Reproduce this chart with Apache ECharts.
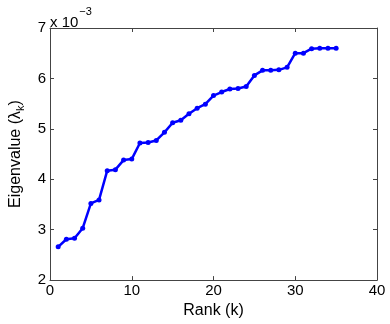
<!DOCTYPE html>
<html>
<head>
<meta charset="utf-8">
<script src="https://cdn.jsdelivr.net/npm/echarts@6/dist/echarts.min.js"></script>
<style>
  html, body { margin: 0; padding: 0; background: #fff; }
  #chart { width: 390px; height: 324px; }
</style>
</head>
<body>
<div id="chart"></div>
<script>
// rank k
const ranks = [1, 2, 3, 4, 5, 6, 7, 8, 9, 10, 11, 12, 13, 14, 15, 16, 17, 18,
  19, 20, 21, 22, 23, 24, 25, 26, 27, 28, 29, 30, 31, 32, 33, 34, 35]
// eigenvalues, in units of 10^-3
const eigenvalues = [2.66, 2.81, 2.83, 3.03, 3.52, 3.59, 4.17, 4.19, 4.38, 4.40,
  4.72, 4.73, 4.77, 4.93, 5.12, 5.17, 5.30, 5.41, 5.49, 5.66, 5.73, 5.79, 5.80,
  5.84, 6.06, 6.16, 6.16, 6.17, 6.22, 6.50, 6.50, 6.59, 6.60, 6.60, 6.60]

const font = 'Liberation Sans, Arial, sans-serif'
const axisColor = '#444'

const chart = echarts.init(document.getElementById('chart'))

const boxAxis = {
  axisLine: { show: true, onZero: false, lineStyle: { color: axisColor, width: 1 } },
  axisTick: { show: true, inside: true, length: 4, lineStyle: { color: axisColor } },
  splitLine: { show: false }
}

chart.setOption({
  animation: false,
  textStyle: { fontFamily: font },
  title: {
    text: '{a|x 10}{b|−3}',
    left: 45,
    top: 1,
    textStyle: {
      fontWeight: 'normal',
      rich: {
        a: { fontSize: 15, color: '#000', fontFamily: font, fontWeight: 'normal', padding: [9, 1, 0, 0] },
        b: { fontSize: 11, color: '#000', fontFamily: font, fontWeight: 'normal', verticalAlign: 'top' }
      }
    }
  },
  grid: { left: 48, right: 13, top: 28, bottom: 41, containLabel: false },
  xAxis: [
    Object.assign({
      type: 'value', min: 0, max: 40, interval: 10, position: 'bottom',
      name: 'Rank (k)', nameLocation: 'middle', nameGap: 13,
      nameTextStyle: { fontSize: 16, color: '#000', fontFamily: font },
      axisLabel: { fontSize: 15, color: '#000', margin: 3, fontFamily: font }
    }, boxAxis),
    Object.assign({
      type: 'value', min: 0, max: 40, interval: 10, position: 'top',
      axisLabel: { show: false }
    }, boxAxis)
  ],
  yAxis: [
    Object.assign({
      type: 'value', min: 2, max: 7, interval: 1, position: 'left',
      name: 'Eigenvalue (λ{s|k})', nameLocation: 'middle', nameGap: 24,
      nameTextStyle: {
        fontSize: 16, color: '#000', fontFamily: font,
        rich: { s: { fontSize: 11, color: '#000', fontFamily: font, padding: [9, 0, 0, 0] } }
      },
      axisLabel: { fontSize: 15, color: '#000', margin: 4, fontFamily: font }
    }, boxAxis),
    Object.assign({
      type: 'value', min: 2, max: 7, interval: 1, position: 'right',
      axisLabel: { show: false }
    }, boxAxis)
  ],
  series: [{
    type: 'line',
    xAxisIndex: 0,
    yAxisIndex: 0,
    data: ranks.map((r, i) => [r, eigenvalues[i]]),
    symbol: 'circle',
    symbolSize: 5,
    lineStyle: { color: '#0000ff', width: 2.5 },
    itemStyle: { color: '#0000ff' }
  }]
})
</script>
</body>
</html>
